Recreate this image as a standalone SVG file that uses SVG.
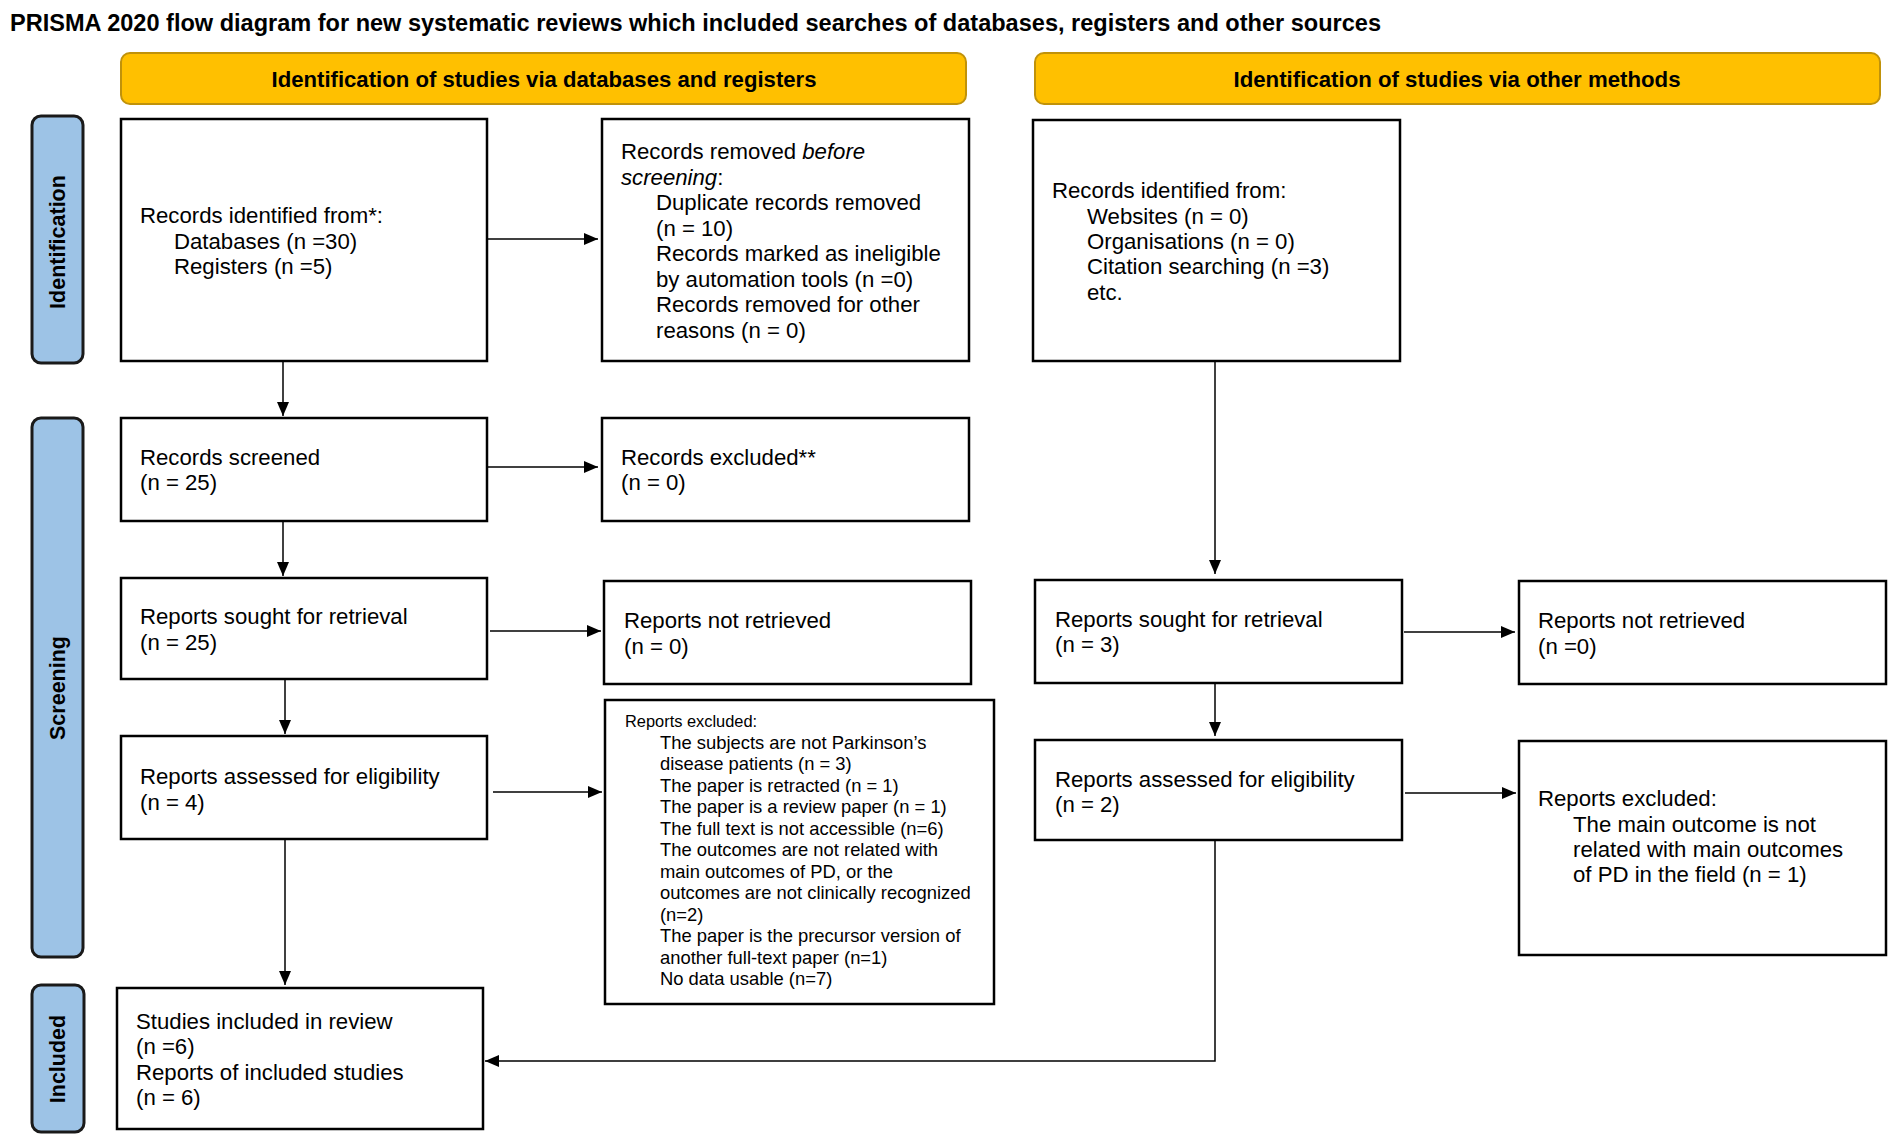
<svg xmlns="http://www.w3.org/2000/svg" width="1899" height="1147" viewBox="0 0 1899 1147">
<style>
.bg{fill:#ffffff}
.box{fill:#ffffff;stroke:#000000;stroke-width:2.5}
.banner{fill:#FFC000;stroke:#C0920A;stroke-width:2}
.side{fill:#9DC3E6;stroke:#1a1a1a;stroke-width:3}
.t{font-family:"Liberation Sans",Arial,sans-serif;font-size:22.2px;fill:#000}
.s{font-family:"Liberation Sans",Arial,sans-serif;font-size:18.4px;fill:#000}
.sh{font-family:"Liberation Sans",Arial,sans-serif;font-size:16.4px;fill:#000}
.bt{font-family:"Liberation Sans",Arial,sans-serif;font-size:22px;font-weight:bold;fill:#000}
.st{font-family:"Liberation Sans",Arial,sans-serif;font-size:21.5px;font-weight:bold;fill:#000}
.title{font-family:"Liberation Sans",Arial,sans-serif;font-size:23px;font-weight:bold;fill:#000}
.c{fill:none;stroke:#000;stroke-width:1.5}
</style>
<defs>
<marker id="ah" markerWidth="14" markerHeight="12" refX="14" refY="6" orient="auto" markerUnits="userSpaceOnUse">
<path d="M0,0 L14,6 L0,12 Z" fill="#000"/>
</marker>
</defs>
<rect class="bg" x="0" y="0" width="1899" height="1147"/>
<text class="title" x="10" y="31" textLength="1371" lengthAdjust="spacingAndGlyphs">PRISMA 2020 flow diagram for new systematic reviews which included searches of databases, registers and other sources</text>

<g id="banner-databases">
<rect class="banner" x="121" y="53" width="845" height="51" rx="9"/>
<text class="bt" x="544" y="87" text-anchor="middle" textLength="545" lengthAdjust="spacingAndGlyphs">Identification of studies via databases and registers</text>
</g>
<g id="banner-other">
<rect class="banner" x="1035" y="53" width="845" height="51" rx="9"/>
<text class="bt" x="1457" y="87" text-anchor="middle" textLength="447" lengthAdjust="spacingAndGlyphs">Identification of studies via other methods</text>
</g>

<g id="side-identification">
<rect class="side" x="32" y="116" width="51" height="247" rx="9"/>
<text class="st" transform="translate(65,242) rotate(-90)" text-anchor="middle">Identification</text>
</g>
<g id="side-screening">
<rect class="side" x="32" y="418" width="51" height="539" rx="9"/>
<text class="st" transform="translate(65,688) rotate(-90)" text-anchor="middle">Screening</text>
</g>
<g id="side-included">
<rect class="side" x="32" y="985" width="52" height="147" rx="9"/>
<text class="st" transform="translate(65,1059) rotate(-90)" text-anchor="middle">Included</text>
</g>

<g id="records-identified">
<rect class="box" x="121" y="119" width="366" height="242"/>
<text class="t" x="140" y="223">Records identified from*:</text>
<text class="t" x="174" y="249">Databases (n =30)</text>
<text class="t" x="174" y="274">Registers (n =5)</text>
</g>
<g id="records-removed">
<rect class="box" x="602" y="119" width="367" height="242"/>
<text class="t" x="621" y="159">Records removed <tspan font-style="italic">before</tspan></text>
<text class="t" x="621" y="185"><tspan font-style="italic">screening</tspan>:</text>
<text class="t" x="656" y="210">Duplicate records removed</text>
<text class="t" x="656" y="236">(n = 10)</text>
<text class="t" x="656" y="261">Records marked as ineligible</text>
<text class="t" x="656" y="287">by automation tools (n =0)</text>
<text class="t" x="656" y="312">Records removed for other</text>
<text class="t" x="656" y="338">reasons (n = 0)</text>
</g>
<g id="other-records-identified">
<rect class="box" x="1033" y="120" width="367" height="241"/>
<text class="t" x="1052" y="198">Records identified from:</text>
<text class="t" x="1087" y="224">Websites (n = 0)</text>
<text class="t" x="1087" y="249">Organisations (n = 0)</text>
<text class="t" x="1087" y="274">Citation searching (n =3)</text>
<text class="t" x="1087" y="300">etc.</text>
</g>
<g id="records-screened">
<rect class="box" x="121" y="418" width="366" height="103"/>
<text class="t" x="140" y="465">Records screened</text>
<text class="t" x="140" y="490">(n = 25)</text>
</g>
<g id="records-excluded">
<rect class="box" x="602" y="418" width="367" height="103"/>
<text class="t" x="621" y="465">Records excluded**</text>
<text class="t" x="621" y="490">(n = 0)</text>
</g>
<g id="reports-sought-db">
<rect class="box" x="121" y="578" width="366" height="101"/>
<text class="t" x="140" y="624">Reports sought for retrieval</text>
<text class="t" x="140" y="650">(n = 25)</text>
</g>
<g id="reports-not-retrieved-db">
<rect class="box" x="604" y="581" width="367" height="103"/>
<text class="t" x="624" y="628">Reports not retrieved</text>
<text class="t" x="624" y="654">(n = 0)</text>
</g>
<g id="reports-sought-other">
<rect class="box" x="1035" y="580" width="367" height="103"/>
<text class="t" x="1055" y="627">Reports sought for retrieval</text>
<text class="t" x="1055" y="652">(n = 3)</text>
</g>
<g id="reports-not-retrieved-other">
<rect class="box" x="1519" y="581" width="367" height="103"/>
<text class="t" x="1538" y="628">Reports not retrieved</text>
<text class="t" x="1538" y="654">(n =0)</text>
</g>
<g id="reports-assessed-db">
<rect class="box" x="121" y="736" width="366" height="103"/>
<text class="t" x="140" y="784">Reports assessed for eligibility</text>
<text class="t" x="140" y="810">(n = 4)</text>
</g>
<g id="reports-excluded-db">
<rect class="box" x="605" y="700" width="389" height="304"/>
<text class="sh" x="625" y="727">Reports excluded:</text>
<text class="s" x="660" y="748.5">The subjects are not Parkinson’s</text>
<text class="s" x="660" y="770">disease patients (n = 3)</text>
<text class="s" x="660" y="791.5">The paper is retracted (n = 1)</text>
<text class="s" x="660" y="813">The paper is a review paper (n = 1)</text>
<text class="s" x="660" y="834.5">The full text is not accessible (n=6)</text>
<text class="s" x="660" y="856">The outcomes are not related with</text>
<text class="s" x="660" y="877.5">main outcomes of PD, or the</text>
<text class="s" x="660" y="899">outcomes are not clinically recognized</text>
<text class="s" x="660" y="920.5">(n=2)</text>
<text class="s" x="660" y="942">The paper is the precursor version of</text>
<text class="s" x="660" y="963.5">another full-text paper (n=1)</text>
<text class="s" x="660" y="985">No data usable (n=7)</text>
</g>
<g id="reports-assessed-other">
<rect class="box" x="1035" y="740" width="367" height="100"/>
<text class="t" x="1055" y="787">Reports assessed for eligibility</text>
<text class="t" x="1055" y="812">(n = 2)</text>
</g>
<g id="reports-excluded-other">
<rect class="box" x="1519" y="741" width="367" height="214"/>
<text class="t" x="1538" y="806">Reports excluded:</text>
<text class="t" x="1573" y="832">The main outcome is not</text>
<text class="t" x="1573" y="857">related with main outcomes</text>
<text class="t" x="1573" y="882">of PD in the field (n = 1)</text>
</g>
<g id="studies-included">
<rect class="box" x="117" y="988" width="366" height="141"/>
<text class="t" x="136" y="1029">Studies included in review</text>
<text class="t" x="136" y="1054">(n =6)</text>
<text class="t" x="136" y="1080">Reports of included studies</text>
<text class="t" x="136" y="1105">(n = 6)</text>
</g>

<g id="connectors">
<line class="c" x1="487" y1="239" x2="598" y2="239" marker-end="url(#ah)"/>
<line class="c" x1="283" y1="361" x2="283" y2="416" marker-end="url(#ah)"/>
<line class="c" x1="487" y1="467" x2="598" y2="467" marker-end="url(#ah)"/>
<line class="c" x1="283" y1="521" x2="283" y2="576" marker-end="url(#ah)"/>
<line class="c" x1="490" y1="631" x2="601" y2="631" marker-end="url(#ah)"/>
<line class="c" x1="285" y1="679" x2="285" y2="734" marker-end="url(#ah)"/>
<line class="c" x1="493" y1="792" x2="602" y2="792" marker-end="url(#ah)"/>
<line class="c" x1="285" y1="839" x2="285" y2="985" marker-end="url(#ah)"/>
<line class="c" x1="1215" y1="361" x2="1215" y2="574" marker-end="url(#ah)"/>
<line class="c" x1="1404" y1="632" x2="1515" y2="632" marker-end="url(#ah)"/>
<line class="c" x1="1215" y1="683" x2="1215" y2="736" marker-end="url(#ah)"/>
<line class="c" x1="1405" y1="793" x2="1516" y2="793" marker-end="url(#ah)"/>
<polyline class="c" points="1215,840 1215,1061 485,1061" marker-end="url(#ah)"/>
</g>
</svg>
